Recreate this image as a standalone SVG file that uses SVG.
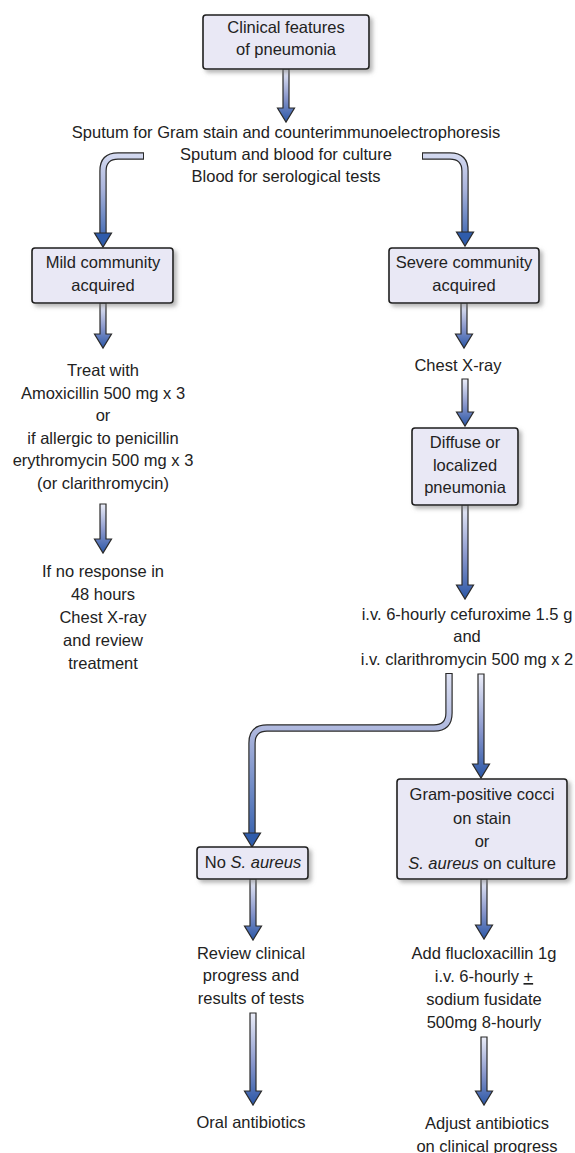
<svg xmlns="http://www.w3.org/2000/svg" width="575" height="1153" viewBox="0 0 575 1153">
<defs>
<style>
text{font-family:"Liberation Sans",Arial,sans-serif;font-size:16.5px;fill:#222;text-anchor:middle}
.box{fill:#e9e8f5;stroke:#1e1e1e;stroke-width:1.6;filter:url(#sh)}
.arr{fill:url(#gv);stroke:#2a2a2a;stroke-width:1.2;stroke-linejoin:miter}
.out{fill:none;stroke:#2a2a2a;stroke-width:7.4}
.head{fill:#2f5cab;stroke:#2a2a2a;stroke-width:1.2}
</style>
<linearGradient id="gv" x1="0" y1="0" x2="0" y2="1">
<stop offset="0" stop-color="#eceef9"/>
<stop offset="0.55" stop-color="#8896cc"/>
<stop offset="1" stop-color="#2b57a6"/>
</linearGradient>
<linearGradient id="gA" gradientUnits="userSpaceOnUse" x1="0" y1="150" x2="0" y2="247">
<stop offset="0" stop-color="#d9def2"/>
<stop offset="0.4" stop-color="#aab4dc"/>
<stop offset="1" stop-color="#2f5cab"/>
</linearGradient>
<linearGradient id="gC" gradientUnits="userSpaceOnUse" x1="0" y1="674" x2="0" y2="847">
<stop offset="0" stop-color="#dde1f3"/>
<stop offset="0.35" stop-color="#aab4dc"/>
<stop offset="1" stop-color="#2f5cab"/>
</linearGradient>
<filter id="sh" x="-10%" y="-10%" width="130%" height="140%">
<feDropShadow dx="3" dy="3" stdDeviation="2" flood-color="#777" flood-opacity="0.55"/>
</filter>
</defs>

<g id="connectors">
<!-- straight vertical arrows -->
<polygon class="arr" points="283,69 289,69 289,108 294.5,108 286,122 277.5,108 283,108"/>
<polygon class="arr" points="100,303 106,303 106,334 111.5,334 103,348 94.5,334 100,334"/>
<polygon class="arr" points="100,504 106,504 106,539 111.5,539 103,553 94.5,539 100,539"/>
<polygon class="arr" points="461,303 467,303 467,334 472.5,334 464,348 455.5,334 461,334"/>
<polygon class="arr" points="462,379 468,379 468,412 473.5,412 465,426 456.5,412 462,412"/>
<polygon class="arr" points="462,505 468,505 468,585 473.5,585 465,599 456.5,585 462,585"/>
<polygon class="arr" points="478,674 484,674 484,764 489.5,764 481,778 472.5,764 478,764"/>
<polygon class="arr" points="250,879 256,879 256,926 261.5,926 253,940 244.5,926 250,926"/>
<polygon class="arr" points="250,1013 256,1013 256,1091 261.5,1091 253,1105 244.5,1091 250,1091"/>
<polygon class="arr" points="481,879 487,879 487,925 492.5,925 484,939 475.5,925 481,925"/>
<polygon class="arr" points="481,1037 487,1037 487,1091 492.5,1091 484,1105 475.5,1091 481,1091"/>
<!-- bent arrow left top -->
<path class="out" d="M144 156 H118 Q103 156 103 171 V234"/>
<path d="M143 156 H118 Q103 156 103 171 V234" fill="none" stroke="url(#gA)" stroke-width="5"/>
<polygon class="head" points="94.5,233 111.5,233 103,247"/>
<!-- bent arrow right top -->
<path class="out" d="M422 156 H450 Q465 156 465 171 V233"/>
<path d="M423 156 H450 Q465 156 465 171 V233" fill="none" stroke="url(#gA)" stroke-width="5"/>
<polygon class="head" points="456.5,232 473.5,232 465,246"/>
<!-- bent arrow lower -->
<path class="out" d="M449 673 V713 Q449 728 434 728 H267 Q252 728 252 743 V834"/>
<path d="M449 674 V713 Q449 728 434 728 H267 Q252 728 252 743 V834" fill="none" stroke="url(#gC)" stroke-width="5"/>
<polygon class="head" points="243.5,833 260.5,833 252,847"/>
</g>

<g id="n_clinical">
<rect class="box" x="203" y="15" width="166" height="54" rx="3"/>
<text x="286" y="33">Clinical features</text>
<text x="286" y="55">of pneumonia</text>
</g>

<g id="n_sputum">
<text x="286" y="138">Sputum for Gram stain and counterimmunoelectrophoresis</text>
<text x="286" y="160">Sputum and blood for culture</text>
<text x="286" y="182">Blood for serological tests</text>
</g>

<g id="n_mild">
<rect class="box" x="32" y="248" width="141" height="55" rx="3"/>
<text x="103" y="268">Mild community</text>
<text x="103" y="291">acquired</text>
</g>

<g id="n_severe">
<rect class="box" x="389" y="248" width="150" height="55" rx="3"/>
<text x="464" y="268">Severe community</text>
<text x="464" y="291">acquired</text>
</g>

<g id="n_treat">
<text x="103" y="376">Treat with</text>
<text x="103" y="398.5">Amoxicillin 500 mg x 3</text>
<text x="103" y="421">or</text>
<text x="103" y="443.5">if allergic to penicillin</text>
<text x="103" y="466">erythromycin 500 mg x 3</text>
<text x="103" y="488.5">(or clarithromycin)</text>
</g>

<g id="n_noresponse">
<text x="103" y="577">If no response in</text>
<text x="103" y="600">48 hours</text>
<text x="103" y="623">Chest X-ray</text>
<text x="103" y="646">and review</text>
<text x="103" y="669">treatment</text>
</g>

<g id="n_chest">
<text x="458" y="371">Chest X-ray</text>
</g>

<g id="n_diffuse">
<rect class="box" x="412" y="428" width="106" height="77" rx="3"/>
<text x="465" y="448">Diffuse or</text>
<text x="465" y="471">localized</text>
<text x="465" y="493">pneumonia</text>
</g>

<g id="n_iv">
<text x="467" y="620">i.v. 6-hourly cefuroxime 1.5 g</text>
<text x="467" y="642">and</text>
<text x="467" y="665">i.v. clarithromycin 500 mg x 2</text>
</g>

<g id="n_gram">
<rect class="box" x="397" y="779" width="170" height="100" rx="3"/>
<text x="482" y="800">Gram-positive cocci</text>
<text x="482" y="824">on stain</text>
<text x="482" y="847">or</text>
<text x="482" y="869"><tspan font-style="italic">S. aureus</tspan> on culture</text>
</g>

<g id="n_nosa">
<rect class="box" x="197" y="847" width="111" height="32" rx="3"/>
<text x="253" y="868">No <tspan font-style="italic">S. aureus</tspan></text>
</g>

<g id="n_review">
<text x="251" y="959">Review clinical</text>
<text x="251" y="981">progress and</text>
<text x="251" y="1004">results of tests</text>
</g>

<g id="n_oral">
<text x="251" y="1128">Oral antibiotics</text>
</g>

<g id="n_add">
<text x="484" y="959">Add flucloxacillin 1g</text>
<text x="484" y="982">i.v. 6-hourly <tspan text-decoration="underline">+</tspan></text>
<text x="484" y="1005">sodium fusidate</text>
<text x="484" y="1028">500mg 8-hourly</text>
</g>

<g id="n_adjust">
<text x="487" y="1129">Adjust antibiotics</text>
<text x="487" y="1152">on clinical progress</text>
</g>
</svg>
